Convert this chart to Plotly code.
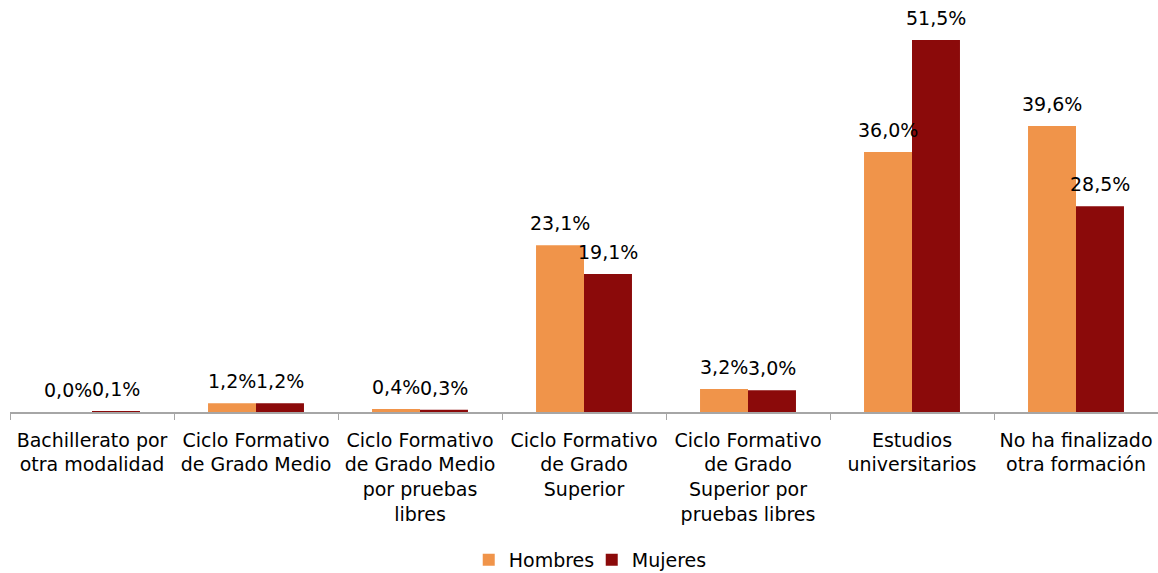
import plotly.graph_objects as go

categories = [
    "Bachillerato por<br>otra modalidad",
    "Ciclo Formativo<br>de Grado Medio",
    "Ciclo Formativo<br>de Grado Medio<br>por pruebas<br>libres",
    "Ciclo Formativo<br>de Grado<br>Superior",
    "Ciclo Formativo<br>de Grado<br>Superior por<br>pruebas libres",
    "Estudios<br>universitarios",
    "No ha finalizado<br>otra formación",
]
hombres = [0.0, 1.2, 0.4, 23.1, 3.2, 36.0, 39.6]
mujeres = [0.1, 1.2, 0.3, 19.1, 3.0, 51.5, 28.5]

FONT = "DejaVu Sans, Liberation Sans, Arial, sans-serif"
FS = 19
TFS = 19

def fmt(v):
    return f"{v:.1f}".replace(".", ",") + "%"

fig = go.Figure()
fig.add_trace(go.Bar(
    name="Hombres", x=categories, y=hombres,
    marker=dict(color="#F0944A", line=dict(width=0)),
))
fig.add_trace(go.Bar(
    name="Mujeres", x=categories, y=mujeres,
    marker=dict(color="#8B0A0A", line=dict(width=0)),
))

annotations = []
for cat, h, m in zip(categories, hombres, mujeres):
    for val, dx in ((h, -24), (m, 24)):
        annotations.append(dict(
            x=cat, y=val, xref="x", yref="y", text=fmt(val),
            showarrow=False, xanchor="center", yanchor="bottom",
            xshift=dx, yshift=9,
            font=dict(family=FONT, size=FS, color="#000000"),
        ))

fig.update_layout(
    width=1158, height=573,
    margin=dict(l=10, r=0, t=0, b=161),
    barmode="group", bargap=0.415, bargroupgap=0,
    plot_bgcolor="white", paper_bgcolor="white",
    font=dict(family=FONT, size=FS, color="#000000"),
    showlegend=True,
    legend=dict(orientation="h", xref="container", yref="container",
                x=0.511, xanchor="center", y=0.0227, yanchor="middle",
                font=dict(family=FONT, size=FS, color="#000000"),
                entrywidth=78, entrywidthmode="pixels", traceorder="normal"),
    annotations=annotations,
)
fig.update_xaxes(
    showline=True, linecolor="#A6A6A6", linewidth=1.5,
    ticks="outside", ticklen=6, tickcolor="#A6A6A6", tickson="boundaries",
    tickfont=dict(family=FONT, size=TFS, color="#000000"),
    ticklabelstandoff=10,
    showgrid=False, zeroline=False, automargin=False,
)
fig.update_yaxes(
    range=[0, 57.04], visible=False, showgrid=False, zeroline=False,
)

fig.write_html(
    "out.html",
    config={"displayModeBar": False},
    post_script="document.body.style.margin='0';document.body.style.overflow='hidden';",
)
